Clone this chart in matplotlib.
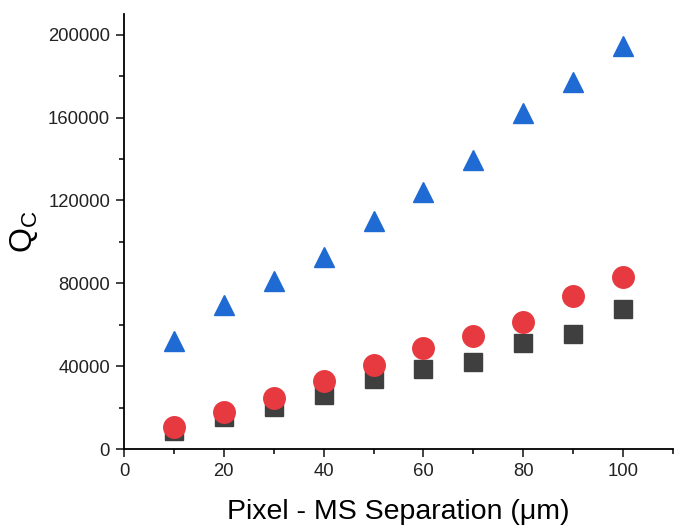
import matplotlib.pyplot as plt
from matplotlib.ticker import MultipleLocator

plt.rcParams['font.family'] = ['Liberation Sans', 'DejaVu Sans']

separacao = [10, 20, 30, 40, 50, 60, 70, 80, 90, 100]
q_quadrado = [8800, 15600, 20400, 26000, 33600, 38700, 42100, 51200, 55700, 67800]
q_circulo = [10600, 17800, 24600, 32800, 40800, 49000, 54500, 61500, 74000, 83000]
q_triangulo = [52000, 69400, 81000, 92500, 110000, 124300, 139700, 162000, 177000, 194700]

fig = plt.figure(figsize=(6.75, 5.31), dpi=100)
ax = fig.add_axes([0.1837, 0.1544, 0.8133, 0.8192])

ax.plot(separacao, q_quadrado, 's', color='#3f3f3f', markersize=13, zorder=3)
ax.plot(separacao, q_circulo, 'o', color='#e63a40', markersize=15.5, zorder=4)
ax.plot(separacao, q_triangulo, '^', color='#1f6bd3', markersize=15, zorder=3)

ax.set_xlim(0, 110)
ax.set_ylim(0, 210000)

ax.xaxis.set_major_locator(MultipleLocator(20))
ax.xaxis.set_minor_locator(MultipleLocator(10))
ax.yaxis.set_major_locator(MultipleLocator(40000))
ax.yaxis.set_minor_locator(MultipleLocator(20000))

ax.spines['top'].set_visible(False)
ax.spines['right'].set_visible(False)
for s in ['left', 'bottom']:
    ax.spines[s].set_linewidth(1.3)

ax.tick_params(which='major', direction='out', length=6, width=1.2,
               labelsize=13.3, colors='#222222', pad=4)
ax.tick_params(which='minor', direction='out', length=3.5, width=1.1)

ax.set_xlabel("Pixel - MS Separation (μm)", fontsize=20.5, labelpad=14)
ax.set_ylabel(r"$\mathregular{Q_C}$", fontsize=23, labelpad=6)

fig.savefig("out.png", dpi=100)
